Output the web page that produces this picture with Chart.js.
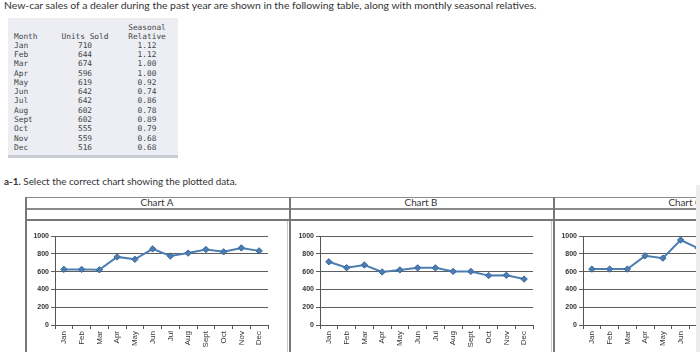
<!DOCTYPE html>
<html><head><meta charset="utf-8">
<script src="https://cdn.jsdelivr.net/npm/chart.js@4"></script>
<style>
html,body{margin:0;padding:0;width:700px;height:352px;overflow:hidden;background:#fff;}
body{position:relative;font-family:Lato,"Open Sans",sans-serif;color:#333;}
.abs{position:absolute;white-space:nowrap;}
.mono{font-family:"DejaVu Sans Mono",monospace;font-size:7.8px;color:#444;line-height:9px;}
.hl{position:absolute;background:#7a7a7a;}
canvas{position:absolute;}
</style></head><body>
<div class="abs" style="left:4px;top:-1px;font-size:10.4px;line-height:12px;">New-car sales of a dealer during the past year are shown in the following table, along with monthly seasonal relatives.</div>
<div class="abs" style="left:8px;top:18px;width:170px;height:137px;background:#eceef3;"></div>
<div class="abs" style="left:8px;top:155px;width:170px;height:3px;background:#c9ccd3;"></div>
<div id="tbl"></div>
<div class="abs" style="left:4px;top:175px;font-size:9.9px;line-height:12px;"><b>a-1.</b> Select the correct chart showing the plotted data.</div>
<div id="frame"></div>
<canvas id="cA" width="258" height="150" style="left:27px;top:222px"></canvas>
<canvas id="cB" width="258" height="150" style="left:292px;top:222px"></canvas>
<canvas id="cC" width="258" height="150" style="left:555px;top:222px"></canvas>
<div class="abs" style="left:696px;top:185px;width:4px;height:167px;background:#ececec;"></div>
<script>
// ---- data ----
const months = ['Jan','Feb','Mar','Apr','May','Jun','Jul','Aug','Sept','Oct','Nov','Dec'];
const unitsSold = [710,644,674,596,619,642,642,602,602,555,559,516];
const seasonalRelative = ['1.12','1.12','1.00','1.00','0.92','0.74','0.86','0.78','0.89','0.79','0.68','0.68'];
const chartTitles = ['Chart A','Chart B','Chart C'];
const chartAValues = [625,625,620,765,738,855,775,808,848,822,866,833];
const chartBValues = [710,644,674,596,619,642,642,602,602,555,559,516];
const chartCValues = [628,628,628,777,751,955,862,null,null,null,null,null];
const yMin = 0, yMax = 1000, yStep = 200;

// ---- table ----
const tbl = document.getElementById('tbl');
function cell(txt, y, left, width, align){
  const d = document.createElement('div');
  d.className = 'abs mono';
  d.style.left = left + 'px';
  d.style.top = (y - 4.5) + 'px';
  if (width) { d.style.width = width + 'px'; d.style.textAlign = align; }
  d.textContent = txt;
  tbl.appendChild(d);
}
cell('Seasonal', 27, 117, 60, 'center');
cell('Month', 36, 14);
cell('Units Sold', 36, 55, 60, 'center');
cell('Relative', 36, 117, 60, 'center');
months.forEach((m, i) => {
  const y = 45.3 + 9.28 * i;
  cell(m, y, 14);
  cell(String(unitsSold[i]), y, 55, 60, 'center');
  cell(seasonalRelative[i], y, 117, 60, 'center');
});

// ---- frame ----
const fr = document.getElementById('frame');
function line(l, t, w, h, c){
  const d = document.createElement('div');
  d.className = 'hl';
  d.style.left = l + 'px'; d.style.top = t + 'px';
  d.style.width = w + 'px'; d.style.height = h + 'px';
  if (c) d.style.background = c;
  fr.appendChild(d);
}
line(25, 197, 700, 1, '#8a8a8a');
line(25, 208, 700, 2, '#8a8a8a');
line(25, 219, 700, 2, '#777');
[25, 289, 553].forEach(x => line(x, 197, 2, 160, '#777'));
[287, 551].forEach(x => line(x, 221, 1, 140, '#c8c8c8'));
const cellX = [25, 289, 553];
chartTitles.forEach((t, i) => {
  const d = document.createElement('div');
  d.className = 'abs';
  d.style.left = cellX[i] + 'px'; d.style.width = '264px';
  d.style.top = '196px'; d.style.textAlign = 'center';
  d.style.fontSize = '9.8px'; d.style.lineHeight = '12px';
  d.textContent = t;
  fr.appendChild(d);
});

// ---- charts ----
function makeChart(id, values){
  new Chart(document.getElementById(id), {
    type: 'line',
    data: { labels: months, datasets: [{
      data: values,
      borderColor: '#4d7eb1',
      borderWidth: 2,
      pointStyle: 'rectRot',
      pointRadius: 3.2,
      pointBackgroundColor: '#4a7db6',
      pointBorderColor: '#3a6797',
      pointBorderWidth: 1,
      tension: 0,
      spanGaps: false
    }]},
    options: {
      responsive: false, animation: false,
      layout: { padding: { top: 14, right: 17, left: 0, bottom: 0 } },
      plugins: { legend: { display: false }, tooltip: { enabled: false } },
      scales: {
        x: {
          offset: true,
          afterFit: s => { s.height = 47; },
          grid: { drawOnChartArea: false, offset: true, tickLength: 4, color: '#555' },
          border: { color: '#555', width: 1 },
          ticks: { autoSkip: false, minRotation: 90, maxRotation: 90, padding: 2,
                   color: '#333', font: { family: 'Liberation Sans, Arial', size: 8 } }
        },
        y: {
          min: yMin, max: yMax,
          afterFit: s => { s.width = 28; },
          grid: { color: '#5e5e5e', lineWidth: 1, tickLength: 4 },
          border: { color: '#555', width: 1 },
          ticks: { stepSize: yStep, padding: 2, color: '#333',
                   callback: v => String(v),
                   font: { family: 'Liberation Sans, Arial', size: 7, weight: 'bold' } }
        }
      }
    }
  });
}
makeChart('cA', chartAValues);
makeChart('cB', chartBValues);
makeChart('cC', chartCValues);
</script>
</body></html>
